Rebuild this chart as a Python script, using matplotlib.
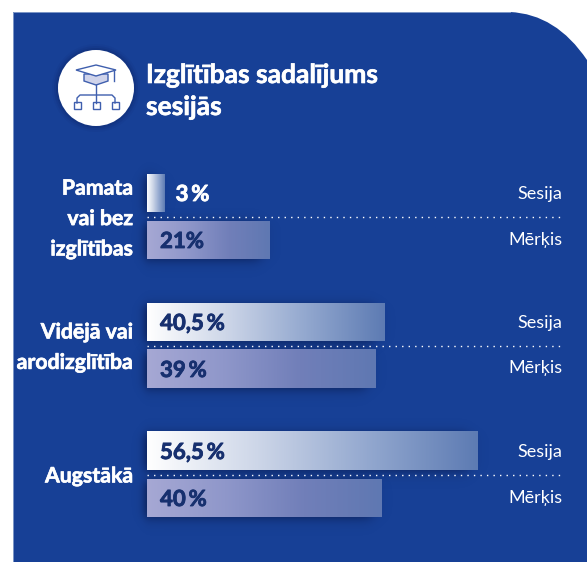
import numpy as np
import matplotlib
matplotlib.use("Agg")
import matplotlib.pyplot as plt
import matplotlib.patheffects as pe
from matplotlib.colors import LinearSegmentedColormap
from matplotlib.patches import Circle, PathPatch, Rectangle, Polygon
from matplotlib.path import Path

plt.rcParams['font.family'] = ['Lato', 'Liberation Sans', 'DejaVu Sans']

W, H = 587, 562
title_lines = ["Izglītības sadalījums", "sesijās"]
categories = ["Pamata\nvai bez\nizglītības", "Vidējā vai\narodizglītība", "Augstākā"]
session_values = [3, 40.5, 56.5]
target_values = [21, 39, 40]
session_labels = ["3\u2009%", "40,5\u2009%", "56,5\u2009%"]
target_labels = ["21%", "39\u2009%", "40\u2009%"]
series_names = ["Sesija", "Mērķis"]

BLUE = "#174096"
DARK = "#17306f"
session_cmap = LinearSegmentedColormap.from_list("s", ["#ffffff", "#cdd6e8", "#93a8cf", "#5d7bb3"])
target_cmap = LinearSegmentedColormap.from_list("t", ["#a6a8d4", "#8f97ca", "#717fb9", "#5f78b2"])

fig = plt.figure(figsize=(W / 100, H / 100), dpi=100, facecolor="white")


def thick(color, lw=0.45):
    return [pe.withStroke(linewidth=lw, foreground=color)]


# фон и шапка в пикселях
bg = fig.add_axes([0, 0, 1, 1])
bg.set_xlim(0, W)
bg.set_ylim(H, 0)
bg.axis("off")

panel = Path(
    [(13, H), (13, 12), (510, 12), (556, 14), (587, 60), (587, H), (13, H)],
    [Path.MOVETO, Path.LINETO, Path.LINETO, Path.CURVE3, Path.CURVE3, Path.LINETO, Path.CLOSEPOLY],
)
bg.add_patch(PathPatch(panel, fc=BLUE, ec="none"))
bg.plot([13, 13, 510], [H, 12, 12], color="#7f98c8", lw=0.7)

# значок
for r, a in zip([44, 42, 40], [0.06, 0.10, 0.16]):
    bg.add_patch(Circle((96, 88), r, fc="#0b1d55", ec="none", alpha=a))
bg.add_patch(Circle((96, 88), 38, fc="white", ec="none"))
ICON = "#3f5fae"
bg.add_patch(Polygon([(84, 74), (108, 74), (108, 81), (96, 85), (84, 81)], fc="#cfd3ea", ec=ICON, lw=1))
bg.add_patch(Polygon([(76, 70), (96, 65), (116, 70), (96, 76)], fc="white", ec=ICON, lw=1))
bg.plot([114, 114], [71, 81], color=ICON, lw=1)
bg.plot([96, 96], [85, 103], color=ICON, lw=1)
bg.plot([77, 77, 80, 112, 115, 115], [103, 98, 95, 95, 98, 103], color=ICON, lw=1)
for cx in [77, 96, 115]:
    bg.add_patch(Rectangle((cx - 3.5, 102), 7, 6.5, fc="white", ec=ICON, lw=1))

bg.text(146, 75, title_lines[0], color="white", fontsize=19, fontweight="bold", va="center", ha="left",
        path_effects=thick("white"))
bg.text(146, 107, title_lines[1], color="white", fontsize=19, fontweight="bold", va="center", ha="left",
        path_effects=thick("white"))

# столбики
left_px, top_px, bottom_px = 147, 150, 540
px_per_pct = 5.855
group_px = 129.0
first_px = 216.5
ax = fig.add_axes([left_px / W, 1 - bottom_px / H, (W - left_px) / W, (bottom_px - top_px) / H])
ax.patch.set_alpha(0)
ax.axis("off")

offset = 23.5 / group_px
height = 38 / group_px
grad = np.linspace(0, 1, 256).reshape(1, -1)
dx = 1 / px_per_pct
dy = 1 / group_px
label_shift = [0.02, 0.017, 0.015]


def draw_shadow(value, y):
    # мягкая тень: слева и снизу от столбика
    pad = 24
    w_px = value * px_per_pct
    xs = np.arange(-pad, w_px + pad)
    ys = np.arange(-pad, 38 + pad)
    fx = (1 / (1 + np.exp(-(xs + 3) / 2.5))) * (1 / (1 + np.exp((xs - (w_px - 10)) / 4)))
    fy = (1 / (1 + np.exp(-(ys - 2) / 3))) * (1 / (1 + np.exp((ys - 38) / 3.5)))
    rgba = np.zeros((len(ys), len(xs), 4))
    rgba[..., :3] = matplotlib.colors.to_rgb("#07133f")
    rgba[..., 3] = 0.75 * np.outer(fy, fx)
    ax.imshow(rgba, extent=(-pad * dx, value + pad * dx, y + height / 2 + pad * dy, y - height / 2 - pad * dy),
              aspect="auto", zorder=1, clip_on=False, interpolation="bilinear")


def draw_bar(value, y, cmap):
    draw_shadow(value, y)
    ax.imshow(grad, extent=(0, value, y + height / 2, y - height / 2), cmap=cmap, aspect="auto", zorder=2, vmin=0, vmax=1)


for i, cat in enumerate(categories):
    draw_bar(session_values[i], i - offset, session_cmap)
    draw_bar(target_values[i], i + offset, target_cmap)
    ax.hlines(i, 0, (562 - left_px) / px_per_pct, color="white", lw=1.0, linestyles=(0, (1, 3.7)), zorder=3)

    sx = 13 * dx
    s_col = DARK
    if session_values[i] < 5:
        sx = session_values[i] + 11 * dx
        s_col = "white"
    ax.text(sx, i - offset + 1.5 * dy, session_labels[i], color=s_col, fontsize=16, fontweight="bold", va="center", ha="left", zorder=4,
            path_effects=thick(s_col, 0.6))
    ax.text(13 * dx, i + offset + 1.5 * dy, target_labels[i], color=DARK, fontsize=16, fontweight="bold", va="center", ha="left", zorder=4,
            path_effects=thick(DARK, 0.6))

    ax.text(-14 * dx, i + label_shift[i], cat, color="white", fontsize=15.3, fontweight="bold",
            va="center", ha="right", linespacing=1.65, clip_on=False, path_effects=thick("white"))
    ax.text((562 - left_px) / px_per_pct, i - offset + 1 * dy, series_names[0], color="white", fontsize=13, va="center", ha="right")
    ax.text((562 - left_px) / px_per_pct, i + offset - 0.5 * dy, series_names[1], color="white", fontsize=13, va="center", ha="right")

ax.set_xlim(0, (W - left_px) / px_per_pct)
ax.set_ylim((bottom_px - first_px) / group_px, (top_px - first_px) / group_px)

fig.savefig("out.png", dpi=100)
